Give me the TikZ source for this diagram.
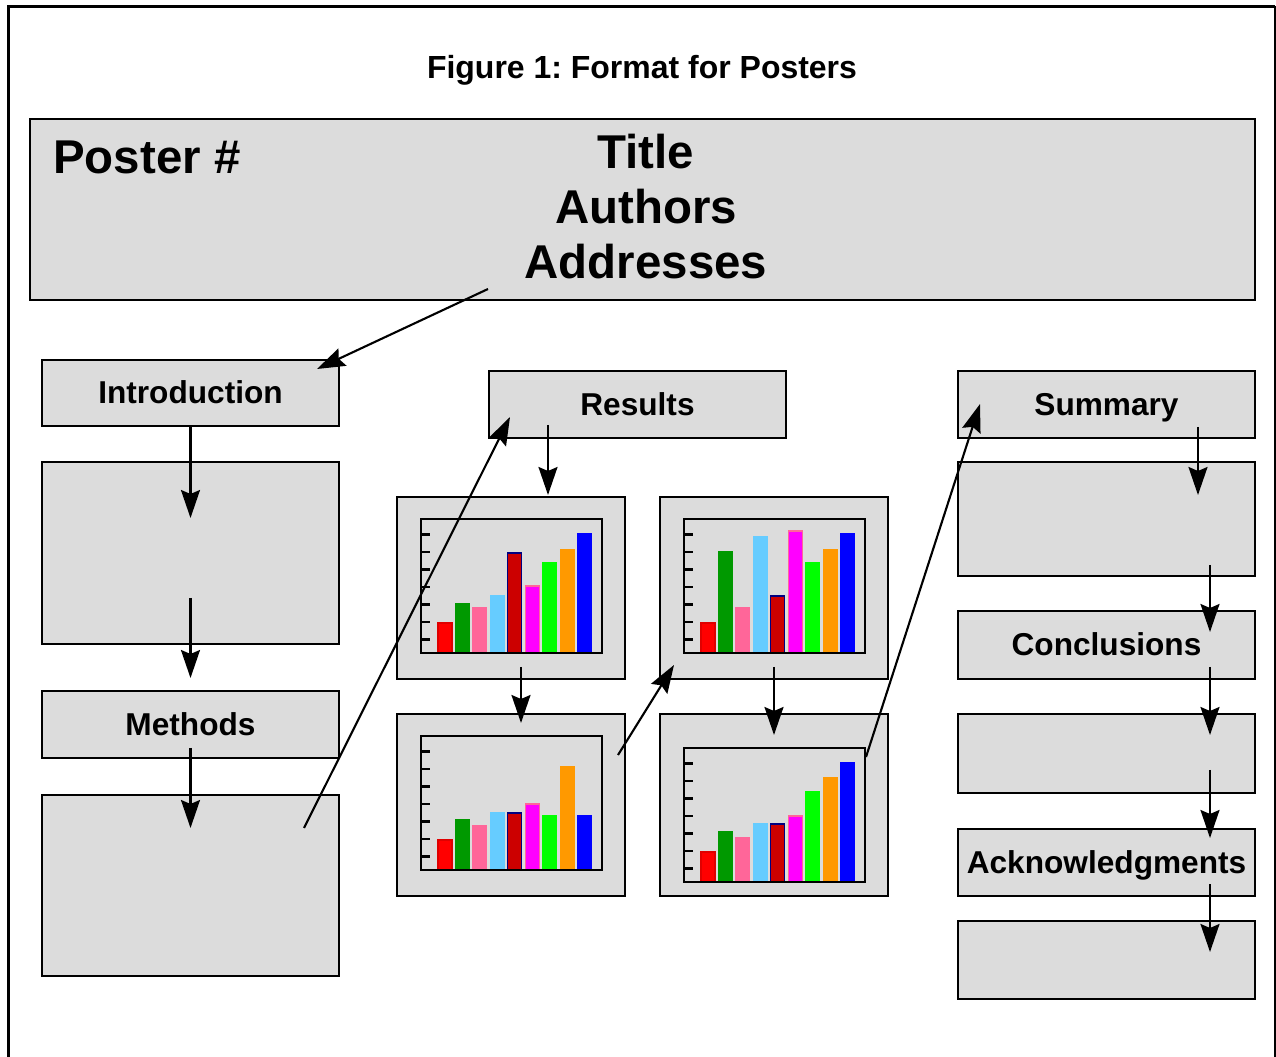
\documentclass[tikz,border=0pt]{standalone}
\usepackage{fontspec}
\setmainfont{Liberation Sans}
\usetikzlibrary{arrows.meta}
\usepackage{xcolor}
\frenchspacing
\definecolor{panelgray}{HTML}{DCDCDC}
\definecolor{bar0}{HTML}{FF0000}
\definecolor{bar1}{HTML}{009900}
\definecolor{bar2}{HTML}{FF6699}
\definecolor{bar3}{HTML}{66CCFF}
\definecolor{bar4}{HTML}{CC0000}
\definecolor{bar5}{HTML}{FF00FF}
\definecolor{bar6}{HTML}{00FF00}
\definecolor{bar7}{HTML}{FF9900}
\definecolor{bar8}{HTML}{0000FF}
\definecolor{barline0}{HTML}{E00000}
\definecolor{barline1}{HTML}{009900}
\definecolor{barline2}{HTML}{FF6699}
\definecolor{barline3}{HTML}{66CCFF}
\definecolor{barline4}{HTML}{000080}
\definecolor{barline5}{HTML}{FF6699}
\definecolor{barline6}{HTML}{00FF00}
\definecolor{barline7}{HTML}{FF9900}
\definecolor{barline8}{HTML}{0000FF}

\newcommand{\barchart}[2]{%
  \begin{scope}[shift={(#1)}]
    \foreach \h [count=\i from 0] in {#2}
      \draw[draw=barline\i, fill=bar\i, line width=0.6pt] (17+17.46*\i,0) rectangle ++(14,-\h);
    \foreach \k in {0,...,6}
      \draw[axis] (0,-13.5-17.5*\k) -- ++(9,0);
    \draw[axis] (0,0) rectangle (181,-134);
  \end{scope}}

\begin{document}
\begin{tikzpicture}[
    x=0.02cm, y=-0.02cm,
    panel/.style={
        draw=black,
        line width=1pt,
        fill=panelgray,
        inner sep=0pt,
    },
    heading/.style={
        panel,
        minimum width=5.94cm,
        text height=13.1pt,
        text depth=1pt,
        font=\fontsize{18}{21}\selectfont\bfseries,
    },
    bigtext/.style={
        font=\fontsize{27}{31.3}\selectfont\bfseries,
        inner sep=0pt,
    },
    flow/.style={
        line width=1.2pt,
        -{Stealth[length=5.6mm, width=3.8mm, inset=0.8mm]},
    },
    axis/.style={
        line width=1.6pt,
    },
]
\useasboundingbox (0,0) rectangle (1276,1057);

\draw[line width=1.4pt] (8.5,1057) -- (8.5,6.5) -- (1275,6.5);
\draw[line width=0.7pt] (1275,6.5) -- (1275,1057);

\node[font=\fontsize{18.2}{22}\selectfont\bfseries] (figtitle) at (642,70) {Figure 1: Format for Posters};

\node[panel, minimum width=24.5cm, minimum height=3.62cm] (header) at (642.5,209.5) {};
\node[bigtext, anchor=west] (posterno) at (53,157) {Poster \#};
\node[bigtext, align=center] (titleblock) at (646,207) {Title\\Authors\\Addresses};

\node[heading, minimum height=1.32cm] (intro) at (190.5,393) {Introduction};
\node[panel, minimum width=5.94cm, minimum height=3.64cm] (introbody) at (190.5,553) {};
\node[heading, minimum height=1.34cm] (methods) at (190.5,724.5) {Methods};
\node[panel, minimum width=5.94cm, minimum height=3.62cm] (methodsbody) at (190.5,885.5) {};

\node[heading, minimum height=1.34cm] (results) at (637.5,404.5) {Results};
\node[panel, minimum width=4.56cm, minimum height=3.64cm] (chartA) at (511,588) {};
\node[panel, minimum width=4.56cm, minimum height=3.64cm] (chartB) at (774,588) {};
\node[panel, minimum width=4.56cm, minimum height=3.64cm] (chartC) at (511,805) {};
\node[panel, minimum width=4.56cm, minimum height=3.64cm] (chartD) at (774,805) {};

\barchart{421,653}{30,49,45,57,100,67,90,103,119}
\barchart{684,653}{30,101,45,116,57,122,90,103,119}
\barchart{421,870}{30,50,44,57,57,66,54,103,54}
\barchart{684,882}{30,50,44,58,58,66,90,104,119}

\node[heading, minimum height=1.34cm] (summary) at (1106.5,404.5) {Summary};
\node[panel, minimum width=5.94cm, minimum height=2.28cm] (summarybody) at (1106.5,519) {};
\node[heading, minimum height=1.36cm] (conclusions) at (1106.5,645) {Conclusions};
\node[panel, minimum width=5.94cm, minimum height=1.58cm] (conclusionsbody) at (1106.5,753.5) {};
\node[heading, minimum height=1.34cm] (ack) at (1106.5,862.5) {Acknowledgments};
\node[panel, minimum width=5.94cm, minimum height=1.56cm] (ackbody) at (1106.5,960) {};

\coordinate (headerout) at (488,289);
\coordinate (introin) at (317,369);
\coordinate (introbodyin) at (190.5,518);
\coordinate (introbodyout) at (190.5,598);
\coordinate (methodsin) at (190.5,678);
\coordinate (methodsout) at (190.5,748);
\coordinate (methodsbodyin) at (190.5,828);
\coordinate (methodsbodyout) at (304,828);
\coordinate (resultsin) at (510,417);
\coordinate (resultsout) at (548,425);
\coordinate (chartAin) at (548,495);
\coordinate (chartAout) at (521,667);
\coordinate (chartCin) at (521,723);
\coordinate (chartCout) at (618,755);
\coordinate (chartBin) at (674,665);
\coordinate (chartBout) at (774,667);
\coordinate (chartDin) at (774,735);
\coordinate (chartDout) at (866,757);
\coordinate (summaryin) at (980,404);
\coordinate (summaryout) at (1198,427);
\coordinate (summarybodyin) at (1198,495);
\coordinate (summarybodyout) at (1210,565);
\coordinate (conclusionsin) at (1210,632);
\coordinate (conclusionsout) at (1210,667);
\coordinate (conclusionsbodyin) at (1210,735);
\coordinate (conclusionsbodyout) at (1210,770);
\coordinate (ackin) at (1210,838);
\coordinate (ackout) at (1210,884);
\coordinate (ackbodyin) at (1210,952);

\draw[flow] (headerout) -- (introin);
\draw[flow] (intro.south) -- (introbodyin);
\draw[flow] (introbodyout) -- (methodsin);
\draw[flow] (methodsout) -- (methodsbodyin);
\draw[flow] (methodsbodyout) -- (resultsin);
\draw[flow] (resultsout) -- (chartAin);
\draw[flow] (chartAout) -- (chartCin);
\draw[flow] (chartCout) -- (chartBin);
\draw[flow] (chartBout) -- (chartDin);
\draw[flow] (chartDout) -- (summaryin);
\draw[flow] (summaryout) -- (summarybodyin);
\draw[flow] (summarybodyout) -- (conclusionsin);
\draw[flow] (conclusionsout) -- (conclusionsbodyin);
\draw[flow] (conclusionsbodyout) -- (ackin);
\draw[flow] (ackout) -- (ackbodyin);

\end{tikzpicture}
\end{document}
